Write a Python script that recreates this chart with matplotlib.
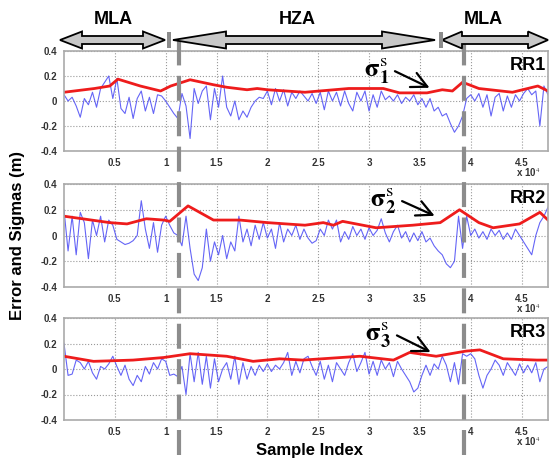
import numpy as np
import matplotlib.pyplot as plt
from matplotlib.patches import Polygon, Rectangle
from matplotlib.lines import Line2D

plt.rcParams['font.family'] = ['Liberation Sans', 'DejaVu Sans']
plt.rcParams['mathtext.fontset'] = 'stix'

# ---- data (x in samples, step 400) ----
step = 400
err_rr1 = [0.05, 0.0, 0.03, -0.04, -0.13, 0.02, -0.03, 0.07, -0.05, 0.1,
           0.15, 0.2, 0.02, 0.18, -0.06, -0.1, 0.03, -0.14, 0.02, 0.08,
           -0.08, 0.03, -0.1, 0.05, 0.04, 0.0, -0.05, -0.1, -0.14, 0.06,
           -0.04, -0.3, 0.1, -0.02, 0.08, 0.12, -0.15, 0.1, -0.05, 0.2,
           -0.05, -0.12, 0.0, -0.15, -0.08, -0.13, -0.05, 0.0, 0.03, 0.02,
           0.08, -0.03, 0.1, 0.0, 0.09, -0.04, 0.07, 0.02, 0.08, 0.04,
           0.0, 0.06, -0.02, 0.07, -0.07, 0.08, 0.0, 0.07, -0.04, 0.08,
           -0.02, -0.08, 0.07, 0.0, 0.08, -0.08, 0.05, -0.05, 0.08, 0.01,
           0.04, 0.0, 0.05, -0.02, 0.03, 0.0, 0.05, -0.03, 0.02, -0.05,
           0.02, -0.08, -0.05, -0.12, -0.1, -0.18, -0.25, -0.2, -0.12, 0.02,
           0.05, 0.0, 0.06, -0.05, 0.05, -0.12, 0.03, 0.06, -0.08, 0.04,
           -0.05, 0.05, 0.0, 0.06, 0.1, 0.05, 0.08, -0.2, 0.12, 0.05]
err_rr2 = [0.2, -0.12, 0.15, -0.15, 0.18, 0.1, -0.18, 0.12, 0.0, 0.15,
           -0.05, 0.12, 0.08, -0.03, -0.05, -0.07, -0.06, -0.04, 0.0, 0.27,
           0.05, -0.1, 0.1, -0.13, 0.08, 0.15, 0.08, 0.02, 0.0, -0.08,
           0.15, -0.1, -0.3, -0.35, -0.25, 0.05, -0.2, -0.05, -0.15, 0.0,
           -0.18, -0.05, -0.12, 0.15, -0.05, 0.05, -0.08, 0.08, -0.03, 0.1,
           -0.02, 0.05, -0.1, 0.1, -0.05, 0.05, 0.0, 0.08, -0.03, 0.05,
           -0.02, -0.06, -0.04, 0.05, 0.0, 0.12, 0.05, 0.12, -0.05, 0.03,
           -0.03, 0.07, 0.0, 0.05, -0.03, 0.06, 0.0, 0.04, 0.13, 0.02,
           -0.05, 0.03, 0.08, -0.02, 0.03, -0.05, 0.02, -0.04, 0.03, -0.05,
           -0.02, -0.08, -0.12, -0.15, -0.22, -0.25, -0.2, 0.15, -0.1, 0.15,
           0.0, 0.05, -0.02, 0.03, -0.03, 0.05, 0.0, 0.04, -0.03, 0.02,
           -0.03, 0.05, 0.0, -0.05, -0.1, -0.15, 0.0, 0.1, 0.15, 0.22]
err_rr3 = [0.2, -0.05, -0.04, 0.07, 0.05, 0.0, 0.06, -0.03, -0.08, 0.02,
           0.0, 0.04, 0.1, 0.02, -0.05, 0.03, -0.08, -0.13, -0.05, -0.1,
           0.02, -0.04, 0.05, 0.0, 0.08, 0.06, -0.05, -0.04, -0.06, 0.02,
           -0.2, 0.12, -0.1, 0.13, -0.12, 0.1, -0.15, 0.08, -0.1, 0.0,
           0.05, -0.08, 0.1, -0.12, 0.05, -0.08, 0.02, -0.05, 0.03, -0.02,
           0.04, -0.02, 0.03, 0.0, 0.05, 0.13, -0.05, 0.06, -0.03, 0.08,
           0.1, 0.02, -0.05, 0.06, -0.08, 0.03, -0.1, 0.05, 0.0, -0.05,
           0.05, 0.12, -0.02, 0.05, 0.13, -0.04, 0.06, -0.05, 0.07, 0.0,
           0.05, -0.06, 0.06, 0.0, -0.05, -0.1, -0.18, -0.15, -0.05, 0.03,
           -0.05, 0.04, 0.0, 0.1, 0.03, -0.1, 0.05, -0.12, 0.12, 0.1,
           0.12, 0.08, -0.05, -0.15, -0.05, 0.0, 0.07, 0.03, -0.05, 0.05,
           0.0, -0.05, 0.04, -0.03, 0.03, -0.03, 0.05, -0.1, 0.0, 0.02]

sig1_x = [0, 0.3, 0.45, 0.53, 0.75, 0.95, 1.05, 1.24, 1.47, 1.6, 1.8, 1.9, 2.0,
          2.37, 2.8, 3.14, 3.3, 3.57, 3.72, 3.82, 3.92, 4.08, 4.41, 4.66, 4.76]
sig1_y = [0.07, 0.1, 0.12, 0.175, 0.12, 0.08, 0.12, 0.17, 0.13, 0.11, 0.09, 0.1, 0.09,
          0.07, 0.1, 0.1, 0.065, 0.065, 0.09, 0.08, 0.15, 0.1, 0.07, 0.12, 0.08]
sig2_x = [0, 0.45, 0.62, 0.81, 0.98, 1.04, 1.22, 1.47, 1.73, 2.0, 2.37, 2.55,
          2.65, 2.74, 3.07, 3.43, 3.7, 3.89, 4.08, 4.22, 4.48, 4.68, 4.76]
sig2_y = [0.15, 0.1, 0.09, 0.13, 0.12, 0.11, 0.23, 0.12, 0.12, 0.1, 0.08, 0.1,
          0.08, 0.11, 0.06, 0.08, 0.1, 0.2, 0.1, 0.06, 0.09, 0.18, 0.12]
sig3_x = [0, 0.29, 0.68, 0.98, 1.24, 1.6, 1.86, 2.12, 2.35, 2.91, 3.24, 3.4,
          3.66, 3.95, 4.09, 4.32, 4.65, 4.76]
sig3_y = [0.1, 0.06, 0.07, 0.09, 0.12, 0.1, 0.06, 0.08, 0.07, 0.1, 0.07, 0.13,
          0.1, 0.14, 0.15, 0.08, 0.07, 0.07]

panels = ['RR1', 'RR2', 'RR3']
sig_labels = [r'$\mathbf{\sigma}_\mathbf{1}^\mathrm{s}$',
              r'$\mathbf{\sigma}_\mathbf{2}^\mathrm{s}$',
              r'$\mathbf{\sigma}_\mathbf{3}^\mathrm{s}$']
errs = [err_rr1, err_rr2, err_rr3]
sig_x = [sig1_x, sig2_x, sig3_x]
sig_y = [sig1_y, sig2_y, sig3_y]
# arrow (head, tail) in data units (x in 1e4 samples)
arrow_head = [(3.62, 0.096), (3.67, 0.144), (3.63, 0.123)]
arrow_tail = [(3.23, 0.248), (3.30, 0.276), (3.25, 0.273)]
boundaries = [1.13e4, 3.93e4]
regions = ['MLA', 'HZA', 'MLA']

W, H = 550, 459
fig = plt.figure(figsize=(W / 100, H / 100), dpi=100)


def fx(px):
    return px / W


def fy(py):
    return 1 - py / H


tops = [51, 184, 318]
bots = [151, 287, 420]
left, right = 64, 548
xmax = 47600

axes = []
for i in range(3):
    ax = fig.add_axes([fx(left), fy(bots[i]), fx(right) - fx(left), (bots[i] - tops[i]) / H])
    x = np.arange(len(errs[i])) * step
    ax.plot(x, errs[i], color='#4a4af5', lw=0.8, alpha=0.85)
    ax.plot(np.array(sig_x[i]) * 1e4, sig_y[i], color='#ee1c1c', lw=2)
    ax.set_xlim(0, xmax)
    ax.set_ylim(-0.4, 0.4)
    ax.set_yticks([-0.4, -0.2, 0, 0.2, 0.4])
    ax.set_yticklabels(['-0.4', '-0.2', '0', '0.2', '0.4'])
    ax.set_xticks(np.arange(5000, 46000, 5000))
    ax.set_xticklabels(['0.5', '1', '1.5', '2', '2.5', '3', '3.5', '4', '4.5'])
    ax.tick_params(labelsize=7, length=0, colors='#333333', pad=5)
    for lab in ax.get_xticklabels() + ax.get_yticklabels():
        lab.set_fontweight('bold')
    ax.grid(True, ls=':', color='#999999', lw=0.8)
    for s in ax.spines.values():
        s.set_color('#aaaaaa')
        s.set_linewidth(1.2)
    ax.text(0.995, 0.86, panels[i], transform=ax.transAxes, ha='right', va='center',
            fontsize=13, fontweight='bold')
    hx, hy = arrow_head[i]
    tx, ty = arrow_tail[i]
    ax.annotate('', xy=(hx * 1e4, hy), xytext=(tx * 1e4, ty),
                arrowprops=dict(arrowstyle='->', lw=1.6, color='black', mutation_scale=28))
    ax.text(tx * 1e4 - 300, ty - 0.01, sig_labels[i], ha='right', va='center', fontsize=19)
    fig.text(fx(540), fy(bots[i] + 22), r'x 10$^4$', ha='right', va='center',
             fontsize=7, fontweight='bold', color='#333333')
    axes.append(ax)

# vertical dashed boundaries across the whole figure
for b in boundaries:
    px = left + b / xmax * (right - left)
    fig.add_artist(Line2D([fx(px), fx(px)], [fy(455), fy(38)], transform=fig.transFigure,
                          color='#8c8c8c', lw=3, ls=(0, (6, 2.5)), zorder=5))


def double_arrow(x0, x1, yc, head_len, head_h=17, shaft_h=8):
    pts = [(x0, yc), (x0 + head_len, yc - head_h / 2), (x0 + head_len, yc - shaft_h / 2),
           (x1 - head_len, yc - shaft_h / 2), (x1 - head_len, yc - head_h / 2), (x1, yc),
           (x1 - head_len, yc + head_h / 2), (x1 - head_len, yc + shaft_h / 2),
           (x0 + head_len, yc + shaft_h / 2), (x0 + head_len, yc + head_h / 2)]
    pts = [(fx(a), fy(b)) for a, b in pts]
    fig.add_artist(Polygon(pts, closed=True, transform=fig.transFigure, facecolor='#c8c8c8',
                           edgecolor='black', lw=1.3, zorder=6))


double_arrow(60, 165, 40, 22)
double_arrow(173, 435, 40, 53)
double_arrow(442, 548, 40, 20)
for px in [169, 441]:
    fig.add_artist(Rectangle((fx(px - 2), fy(48)), fx(4), 16 / H, transform=fig.transFigure,
                             facecolor='#8c8c8c', edgecolor='none', zorder=6))

for name, px in zip(regions, [113, 297, 483]):
    fig.text(fx(px), fy(19), name, ha='center', va='center', fontsize=13, fontweight='bold')

fig.text(fx(18), fy(236), 'Error and Sigmas (m)', rotation=90, ha='center', va='center',
         fontsize=12, fontweight='bold')
fig.text(fx(310), fy(451), 'Sample Index', ha='center', va='center',
         fontsize=12, fontweight='bold')

fig.savefig('out.png', dpi=100)
